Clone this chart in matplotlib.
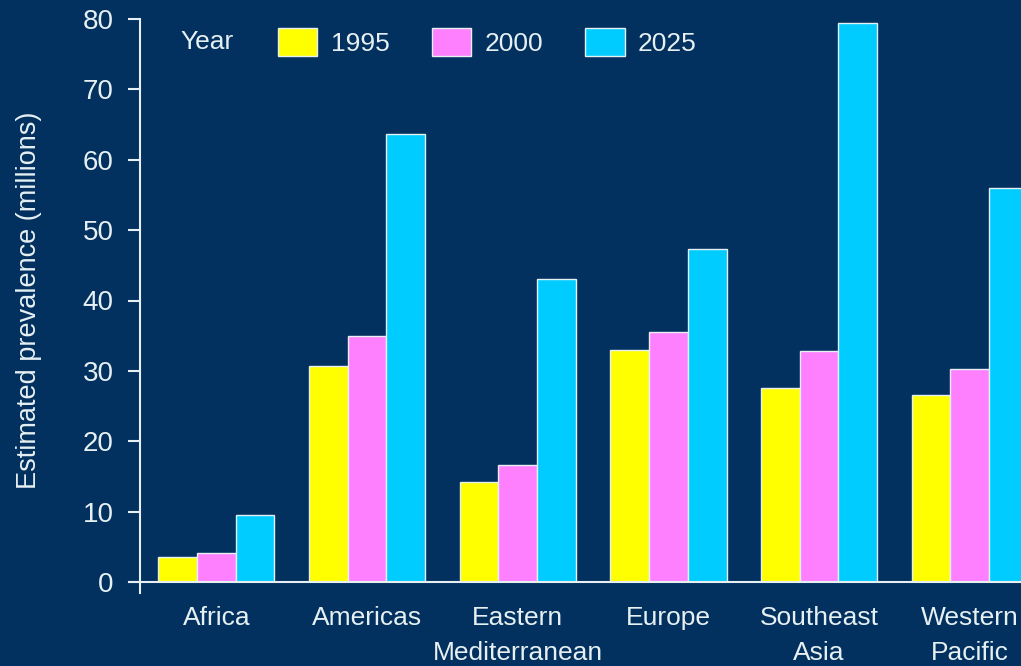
import matplotlib.pyplot as plt
import numpy as np
from matplotlib.patches import Patch

regions = ['Africa', 'Americas', 'Eastern\nMediterranean', 'Europe', 'Southeast\nAsia', 'Western\nPacific']
years = ['1995', '2000', '2025']
v1995 = [3.5, 30.7, 14.2, 33.0, 27.6, 26.6]
v2000 = [4.1, 34.9, 16.6, 35.5, 32.8, 30.3]
v2025 = [9.5, 63.6, 43.0, 47.3, 79.5, 56.0]

bg = '#02305f'
fg = '#e6f0f2'
cols = ['#ffff00', '#ff80ff', '#00ccff']

plt.rcParams['font.family'] = ['Liberation Sans Narrow', 'Liberation Sans', 'DejaVu Sans']

fig = plt.figure(figsize=(10.21, 6.66), dpi=100, facecolor=bg)
ax = fig.add_axes([129/1021, 1-582/666, 1-129/1021, (582-19)/666])
ax.set_facecolor(bg)

x = np.arange(len(regions))
w = 0.257
for i, (vals, c) in enumerate(zip([v1995, v2000, v2025], cols)):
    ax.bar(x + (i-1)*w, vals, w, color=c, edgecolor=fg, linewidth=1.0, label=years[i])

ax.set_xlim(-0.58, 5.34)
ax.set_ylim(0, 80)
ax.set_yticks(range(0, 81, 10))
ax.set_xticks(x)
ax.set_xticklabels(regions, fontsize=19, color=fg, linespacing=1.62)
ax.tick_params(axis='x', length=0, pad=17)
ax.tick_params(axis='y', colors=fg, labelsize=20, length=9, width=1.5, direction='out', pad=10)

for s in ['top', 'right']:
    ax.spines[s].set_visible(False)
ax.spines['left'].set_position(('data', -0.507))
ax.spines['left'].set_bounds(-1.6, 80)
ax.spines['left'].set_color(fg)
ax.spines['left'].set_linewidth(1.5)
ax.spines['bottom'].set_color(fg)
ax.spines['bottom'].set_linewidth(1.5)

ax.set_ylabel('Estimated prevalence (millions)', fontsize=19.5, color=fg)
ax.yaxis.set_label_coords(-0.097, 0.5)

fig.text(180/1021, 1-42/666, 'Year', fontsize=19, color=fg, va='center', ha='left')
handles = [Patch(facecolor=c, edgecolor=fg, linewidth=1.0) for c in cols]
leg = ax.legend(handles, years, ncol=3, frameon=False, fontsize=19,
                loc='center left', bbox_to_anchor=(254/1021, 1-42/666),
                bbox_transform=fig.transFigure,
                handlelength=1.5, handleheight=1.25, handletextpad=0.5, columnspacing=1.6)
for t in leg.get_texts():
    t.set_color(fg)

fig.savefig('out.png', facecolor=bg)
